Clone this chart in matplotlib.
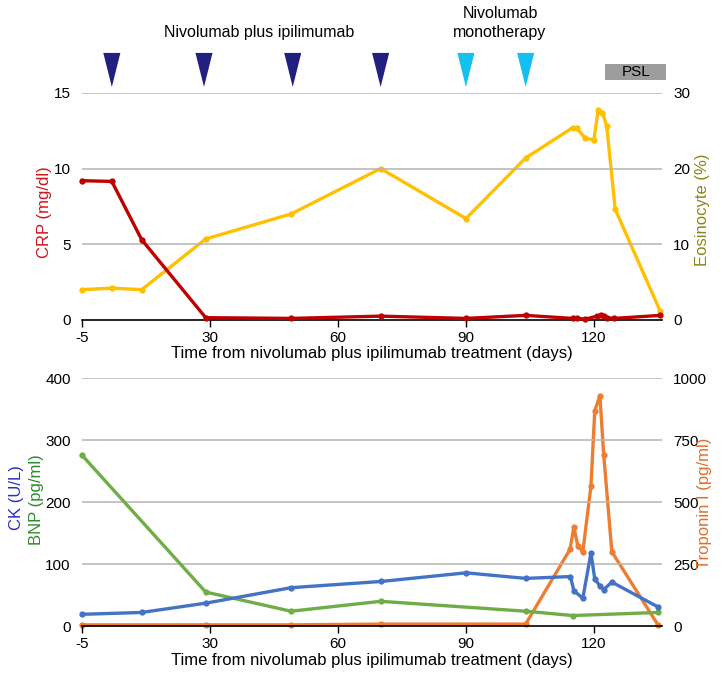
import matplotlib.pyplot as plt
from matplotlib.patches import Polygon, Rectangle
from matplotlib.transforms import blended_transform_factory

plt.rcParams['font.family'] = ['Liberation Sans', 'DejaVu Sans']

# x tick positions / labels as printed on the chart
x_ticks = [0, 30, 60, 90, 120]
x_ticklabels = ['-5', '30', '60', '90', '120']

# treatment schedule (days)
combo_days = [7, 28.6, 49.4, 70]
mono_days = [90, 104]

# top panel: CRP and eosinophils
crp_days = [0, 7, 14, 29, 49, 70, 90, 104, 115, 116, 118, 120.7, 121.6, 122.3, 123, 124.7, 135.5]
crp = [9.2, 9.15, 5.3, 0.15, 0.1, 0.25, 0.1, 0.3, 0.1, 0.1, 0.05, 0.25, 0.3, 0.25, 0.15, 0.1, 0.3]

eos_days = [0, 7, 14, 29, 49, 70, 90, 104, 115, 116, 118, 120, 121, 122, 123, 125, 135.5]
eos = [4.0, 4.2, 4.0, 10.7, 14.0, 20.0, 13.4, 21.4, 25.4, 25.3, 24.0, 23.8, 27.8, 27.4, 25.6, 14.6, 1.2]

# bottom panel: CK, BNP, troponin I
ck_days = [0, 14, 29, 49, 70, 90, 104, 114.5, 115.3, 117.4, 119.3, 120.2, 121.4, 122.3, 124.2, 135]
ck = [19, 22, 37, 62, 72, 86, 77, 80, 57, 45, 118, 76, 65, 59, 71, 31]

bnp_days = [0, 29, 49, 70, 104, 115, 135]
bnp = [276, 55, 24, 40, 24, 17, 22]

trop_days = [0, 29, 49, 70, 104, 114.4, 115.3, 116.2, 117.4, 119.3, 120.2, 121.4, 122.3, 124.2, 135]
trop = [5, 5, 5, 8, 8, 310, 400, 325, 300, 565, 870, 930, 690, 300, 5]

XMAX = 136
FS = 11
W, H = 728, 688


def style_axes(ax, yticks):
    ax.set_xlim(0, XMAX)
    ax.set_xticks(x_ticks)
    ax.set_xticklabels(x_ticklabels, fontsize=FS)
    ax.set_yticks(yticks)
    ax.tick_params(axis='y', length=0, labelsize=FS, pad=8)
    ax.tick_params(axis='x', direction='out', length=5, width=1, pad=3)
    for s in ['top', 'left', 'right']:
        ax.spines[s].set_visible(False)
    ax.spines['bottom'].set_linewidth(1.2)
    for t in yticks[1:]:
        ax.axhline(t, color='#b4b4b4', lw=1.1, zorder=0)


def style_right(ax, yticks):
    ax.set_yticks(yticks)
    ax.tick_params(axis='y', length=0, labelsize=FS, pad=8)
    for s in ['top', 'left', 'right', 'bottom']:
        ax.spines[s].set_visible(False)


def side_label(x, y, text, color):
    # rotated axis label placed in figure pixels
    fig.text(x / W, 1 - y / H, text, rotation=90, ha='center', va='center', color=color, fontsize=12)


fig = plt.figure(figsize=(7.28, 6.88), dpi=100)

# ---- top panel ----
ax1 = fig.add_axes([0.1126, 0.535, 0.797, 0.33])
style_axes(ax1, [0, 5, 10, 15])
ax1.set_ylim(0, 15)
ax1r = ax1.twinx()
ax1r.set_ylim(0, 30)
style_right(ax1r, [0, 10, 20, 30])

ax1r.plot(eos_days, eos, color='#ffc000', lw=2.4, marker='o', ms=3.5, clip_on=False, zorder=2)
ax1.set_zorder(ax1r.get_zorder() + 1)
ax1.patch.set_visible(False)
ax1.plot(crp_days, crp, color='#c00000', lw=2.4, marker='o', ms=3.5, clip_on=False, zorder=3)

ax1.set_xlabel('Time from nivolumab plus ipilimumab treatment (days)', fontsize=12, labelpad=1)
side_label(45, 212, 'CRP (mg/dl)', '#d0131b')
side_label(703, 210, 'Eosinocyte (%)', '#8f8418')

# dosing triangles above the top panel
trans = blended_transform_factory(ax1.transData, ax1.transAxes)
for d in combo_days + mono_days:
    col = '#1f2080' if d in combo_days else '#14c0f0'
    tri = Polygon([[d - 2.0, 1.176], [d + 2.0, 1.176], [d, 1.026]], closed=True,
                  facecolor=col, edgecolor='none', transform=trans, clip_on=False)
    ax1.add_patch(tri)

ax1.add_patch(Rectangle((122.7, 1.057), 14.3, 0.07, facecolor='#9d9d9d', edgecolor='none',
                        transform=trans, clip_on=False))
ax1.text(129.85, 1.092, 'PSL', transform=trans, ha='center', va='center', fontsize=11)

fig.text(259 / W, 1 - 33 / H, 'Nivolumab plus ipilimumab', ha='center', va='center', fontsize=11.5)
fig.text(500 / W, 1 - 23 / H, 'Nivolumab\nmonotherapy', ha='center', va='center', fontsize=11.5,
         linespacing=1.3)

# ---- bottom panel ----
ax2 = fig.add_axes([0.1126, 0.090, 0.797, 0.360])
style_axes(ax2, [0, 100, 200, 300, 400])
ax2.set_ylim(0, 400)
ax2r = ax2.twinx()
ax2r.set_ylim(0, 1000)
style_right(ax2r, [0, 250, 500, 750, 1000])

ax2r.plot(trop_days, trop, color='#ed7d31', lw=2.4, marker='o', ms=3.5, clip_on=False, zorder=2)
ax2.set_zorder(ax2r.get_zorder() + 1)
ax2.patch.set_visible(False)
ax2.plot(bnp_days, bnp, color='#70ad47', lw=2.4, marker='o', ms=3.5, clip_on=False, zorder=3)
ax2.plot(ck_days, ck, color='#4472c4', lw=2.4, marker='o', ms=3.5, clip_on=False, zorder=4)

ax2.set_xlabel('Time from nivolumab plus ipilimumab treatment (days)', fontsize=12, labelpad=1)
side_label(17, 498, 'CK (U/L)', '#2c2cc8')
side_label(37, 500, 'BNP (pg/ml)', '#2e8b2e')
side_label(705, 503, 'Troponin I (pg/ml)', '#e0702a')

fig.savefig('out.png', dpi=100)
